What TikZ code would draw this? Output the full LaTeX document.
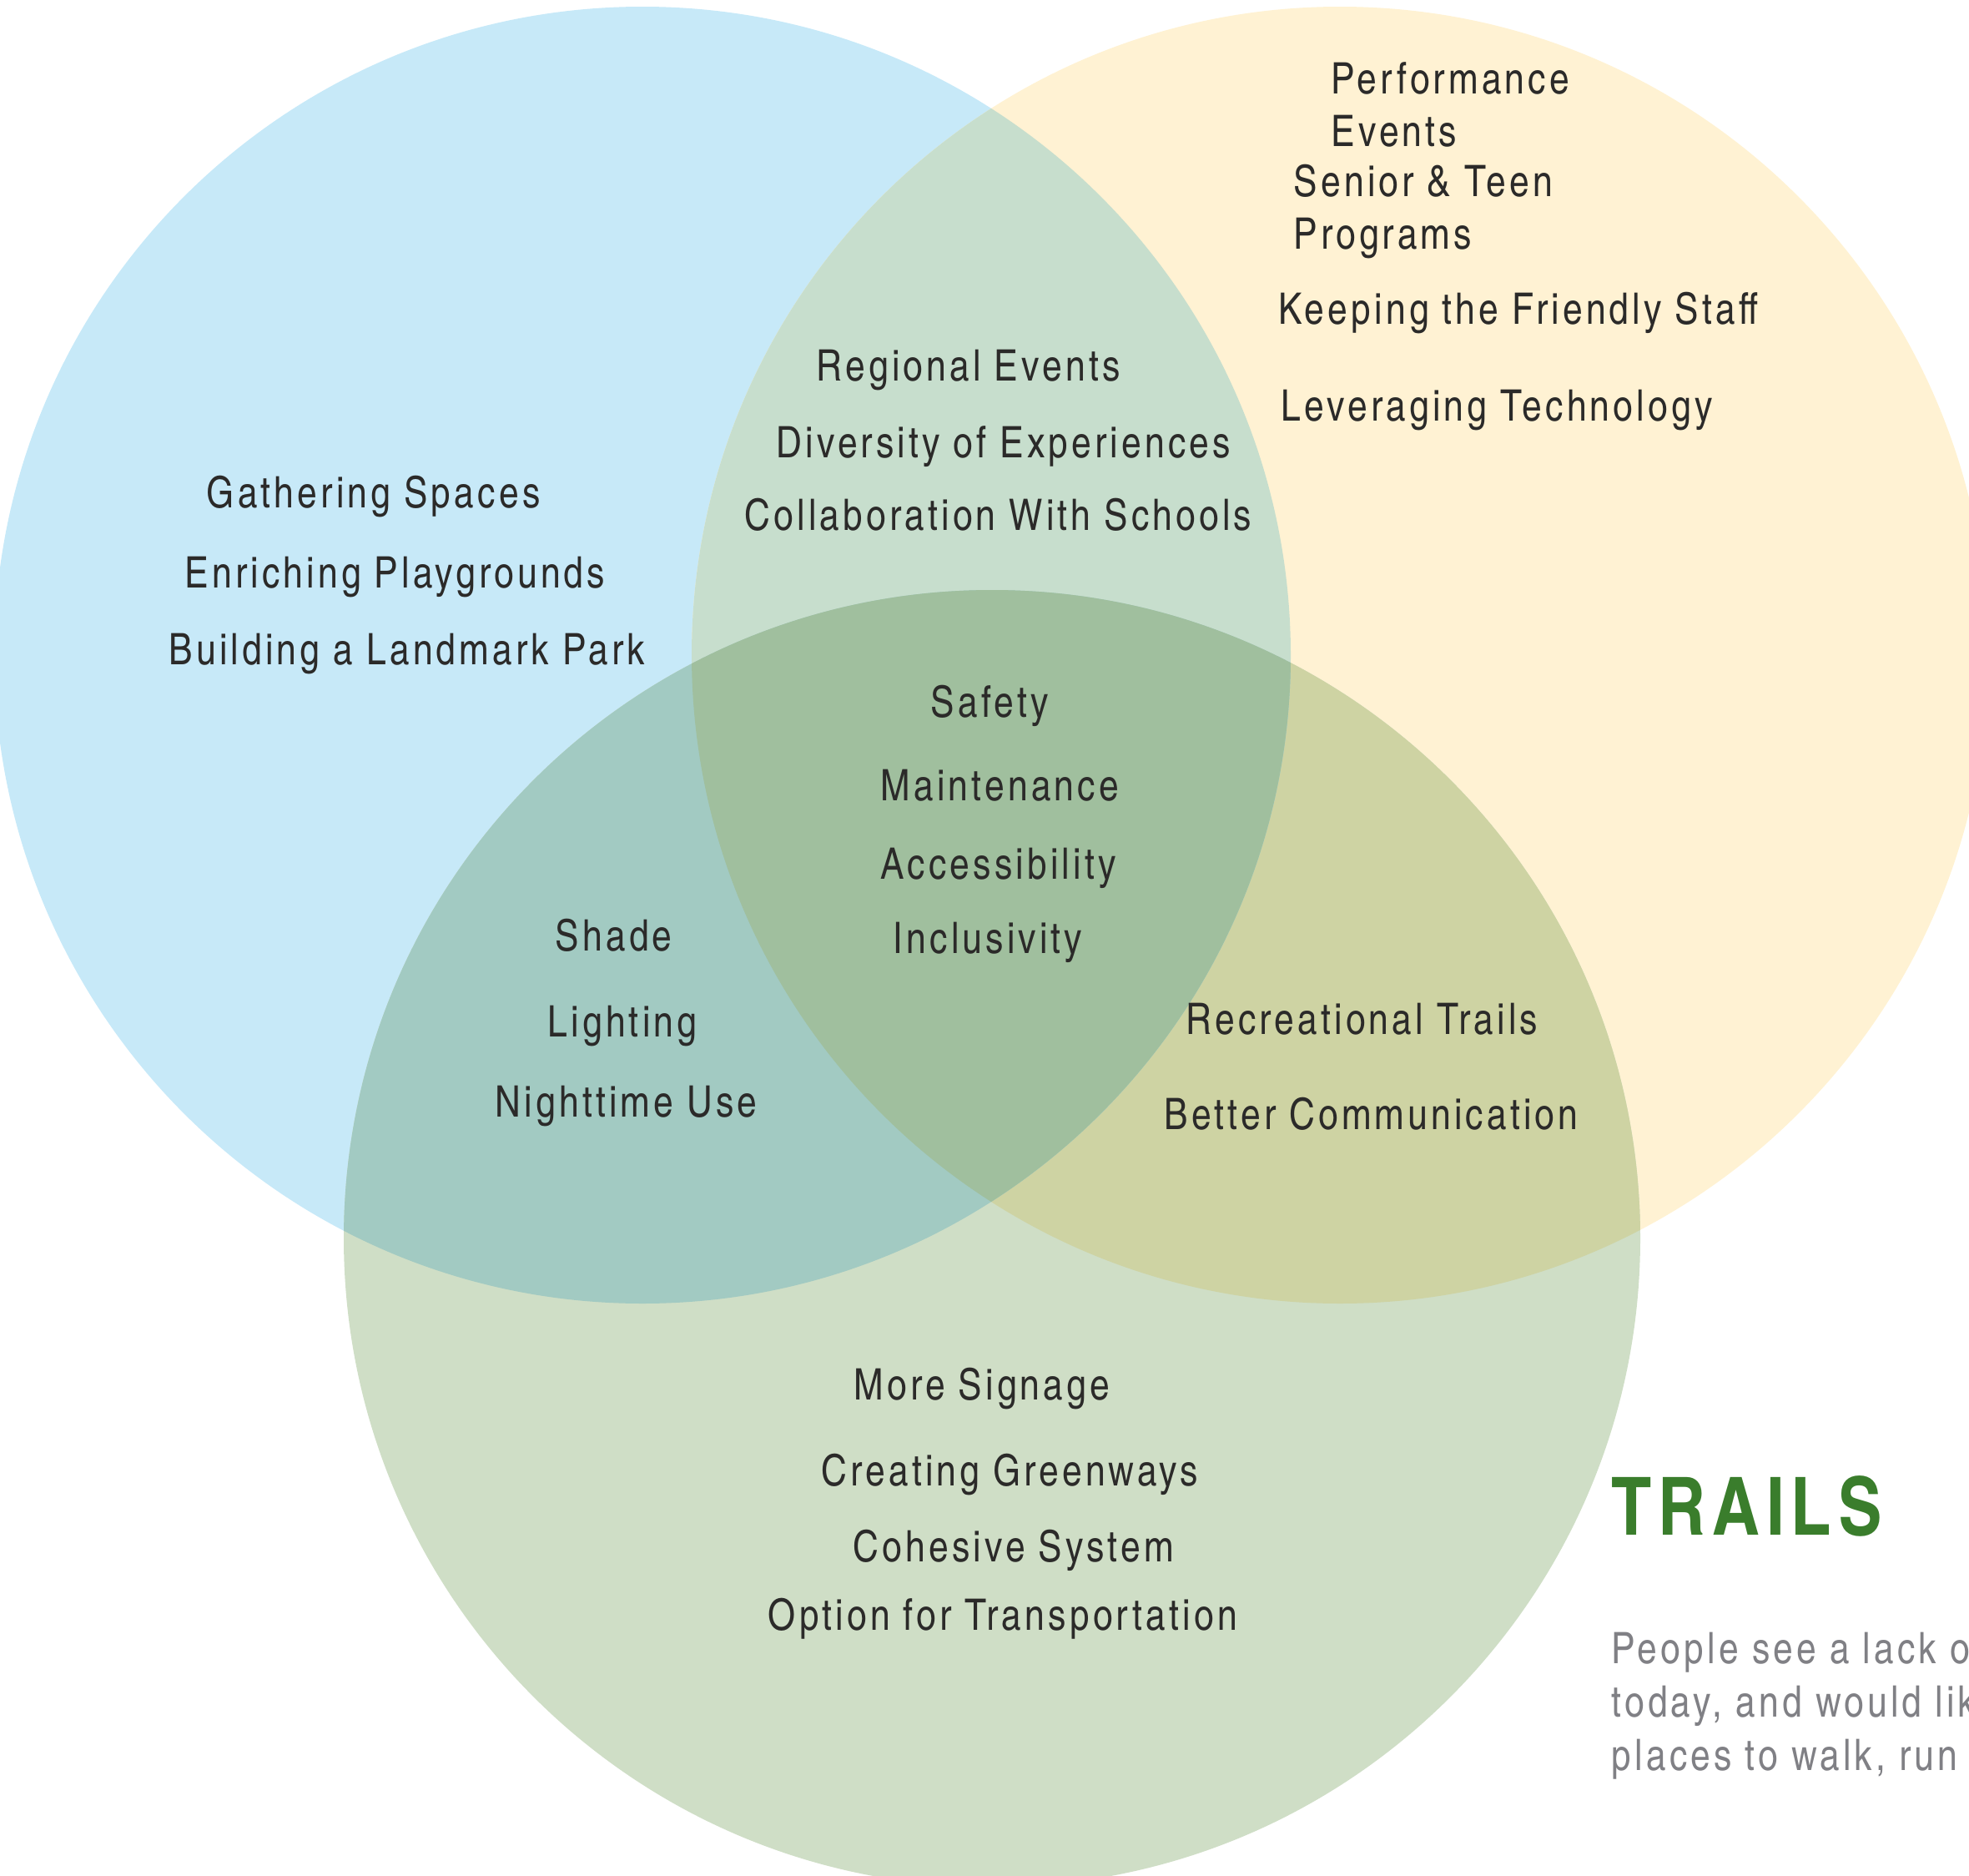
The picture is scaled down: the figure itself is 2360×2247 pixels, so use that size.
\documentclass[tikz,border=0pt]{standalone}
\usepackage{fontspec}
\setmainfont{texgyreheroscn-regular.otf}[BoldFont=texgyreheroscn-bold.otf, LetterSpace=8]
\usetikzlibrary{positioning}

\definecolor{vblue}{RGB}{199,233,248}
\definecolor{vyellow}{RGB}{255,242,211}
\definecolor{vgreen}{RGB}{207,222,198}
\definecolor{vby}{RGB}{199,222,205}
\definecolor{vbg}{RGB}{162,202,194}
\definecolor{vyg}{RGB}{206,211,163}
\definecolor{vbyg}{RGB}{160,191,158}
\definecolor{itemtext}{RGB}{43,42,41}
\definecolor{titlegreen}{RGB}{58,125,44}
\definecolor{notegray}{RGB}{128,128,133}

\begin{document}
\begin{tikzpicture}[
    x=0.1mm, y=-0.1mm,
    item/.style={anchor=base west, inner sep=0pt, text=itemtext,
        font=\fontsize{14.8}{17}\selectfont},
    title/.style={anchor=base west, inner sep=0pt, text=titlegreen,
        font=\fontsize{27.4}{32}\selectfont\bfseries},
    note/.style={anchor=base west, inner sep=0pt, text=notegray,
        font=\fontsize{14.8}{17}\selectfont}
]

\useasboundingbox (0,0) rectangle (2360,2247);
\clip (0,0) rectangle (2360,2247);

% circle centres
\coordinate (cblue) at (770,785);
\coordinate (cyellow) at (1606,785);
\coordinate (cgreen) at (1189,1484);

\fill[vblue] (cblue) circle[radius=77.7mm];
\fill[vyellow] (cyellow) circle[radius=77.7mm];
\fill[vgreen] (cgreen) circle[radius=77.7mm];
\begin{scope}
    \clip (cyellow) circle[radius=77.7mm];
    \fill[vyg] (cgreen) circle[radius=77.7mm];
\end{scope}
\begin{scope}
    \clip (cblue) circle[radius=77.7mm];
    \fill[vby] (cyellow) circle[radius=77.7mm];
    \fill[vbg] (cgreen) circle[radius=77.7mm];
    \clip (cyellow) circle[radius=77.7mm];
    \fill[vbyg] (cgreen) circle[radius=77.7mm];
\end{scope}

% blue only
\node[item] (gather) at (247,608) {Gathering Spaces};
\node[item] (playgr) at (221,704) {Enriching Playgrounds};
\node[item] (landmk) at (202,796) {Building a Landmark Park};

% yellow only
\node[item] (perf) at (1595,113) {Performance};
\node[item] (perfev) at (1595,176) {Events};
\node[item] (senior) at (1550,236) {Senior \& Teen};
\node[item] (progr) at (1550,299) {Programs};
\node[item] (staff) at (1532,388) {Keeping the Friendly Staff};
\node[item] (techn) at (1535,504) {Leveraging Technology};

% blue and yellow
\node[item] (region) at (978,456) {Regional Events};
\node[item] (divers) at (930,548) {Diversity of Experiences};
\node[item] (school) at (892,635) {Collaboration With Schools};

% all three
\node[item] (safety) at (1115,859) {Safety};
\node[item] (maint) at (1055,959) {Maintenance};
\node[item] (access) at (1055,1053) {Accessibility};
\node[item] (inclus) at (1070,1142) {Inclusivity};

% blue and green
\node[item] (shade) at (665,1139) {Shade};
\node[item] (light) at (656,1242) {Lighting};
\node[item] (night) at (593,1338) {Nighttime Use};

% yellow and green
\node[item] (rectr) at (1421,1239) {Recreational Trails};
\node[item] (commun) at (1395,1353) {Better Communication};

% green only
\node[item] (signs) at (1023,1677) {More Signage};
\node[item] (greenw) at (984,1780) {Creating Greenways};
\node[item] (cohes) at (1022,1871) {Cohesive System};
\node[item] (transp) at (920,1953) {Option for Transportation};

% side text
\node[title] (trails) at (1931,1839) {TRAILS};
\node[note] (note1) at (1931,1993) {People see a lack o};
\node[note] (note2) at (1931,2057) {today, and would lik};
\node[note] (note3) at (1931,2121) {places to walk, run};

\end{tikzpicture}
\end{document}
